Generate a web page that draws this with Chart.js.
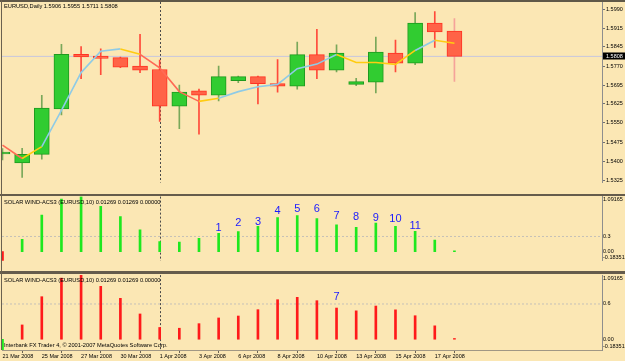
<!DOCTYPE html>
<html><head><meta charset="utf-8">
<script src="https://cdn.jsdelivr.net/npm/chart.js@4.4.1/dist/chart.umd.min.js"></script>
<style>
html,body{margin:0;padding:0;}
body{width:625px;height:361px;background:#fbe7b4;position:relative;overflow:hidden;font-family:"Liberation Sans",Arial,sans-serif;}
canvas{position:absolute;left:0;}
.sep{position:absolute;left:0;width:625px;z-index:5;}
.lbl{position:absolute;left:4px;font-size:5.7px;line-height:8px;color:#000;white-space:nowrap;z-index:6;}
</style></head><body>
<canvas id="c1" width="625" height="215" style="top:-10px"></canvas>
<canvas id="c2" width="625" height="100" style="top:180px"></canvas>
<canvas id="c3" width="625" height="101" style="top:260px"></canvas>
<div class="sep" style="top:0;height:2px;background:#5f5848"></div>
<div class="sep" style="top:193.5px;height:2.5px;background:#655c4c"></div>
<div class="sep" style="top:271px;height:2.5px;background:#655c4c"></div>
<div style="position:absolute;left:1px;top:0;width:1px;height:350px;background:#6a6150;z-index:5"></div>
<div class="lbl" id="t1" style="top:2px"></div>
<div class="lbl" id="t2" style="top:197.5px"></div>
<div class="lbl" id="t3" style="top:276px"></div>
<div class="lbl" id="t4" style="top:341px">Interbank FX Trader 4, © 2001-2007 MetaQuotes Software Corp.</div>
<script>
// ---------- data ----------
const dates = ['21 Mar 2008','24 Mar 2008','25 Mar 2008','26 Mar 2008','27 Mar 2008','28 Mar 2008','30 Mar 2008','31 Mar 2008','1 Apr 2008','2 Apr 2008','3 Apr 2008','4 Apr 2008','6 Apr 2008','7 Apr 2008','8 Apr 2008','9 Apr 2008','10 Apr 2008','11 Apr 2008','13 Apr 2008','14 Apr 2008','15 Apr 2008','16 Apr 2008','17 Apr 2008','18 Apr 2008'];
const openP  = [1.5429,1.5394,1.5427,1.5604,1.5816,1.5809,1.5803,1.5770,1.5757,1.5614,1.5674,1.5657,1.5714,1.5729,1.5702,1.5692,1.5815,1.5754,1.5699,1.5708,1.5821,1.5782,1.5937,1.5906];
const highP  = [1.5450,1.5451,1.5657,1.5855,1.5846,1.5837,1.5805,1.5894,1.5794,1.5696,1.5681,1.5770,1.5731,1.5731,1.5796,1.5864,1.5913,1.5853,1.5723,1.5883,1.5871,1.5978,1.5982,1.5955];
const lowP   = [1.5405,1.5337,1.5408,1.5580,1.5721,1.5737,1.5764,1.5745,1.5555,1.5527,1.5506,1.5635,1.5706,1.5623,1.5669,1.5681,1.5721,1.5748,1.5694,1.5666,1.5748,1.5776,1.5843,1.5711];
const closeP = [1.5436,1.5427,1.5607,1.5816,1.5806,1.5800,1.5766,1.5754,1.5614,1.5669,1.5657,1.5729,1.5729,1.5702,1.5692,1.5815,1.5754,1.5821,1.5710,1.5825,1.5782,1.5937,1.5903,1.5808];
const maValues = [1.5463,1.5411,1.5457,1.5598,1.5745,1.5828,1.5837,1.5816,1.5763,1.5671,1.5633,1.5645,1.5671,1.5690,1.5699,1.5760,1.5778,1.5815,1.5784,1.5784,1.5777,1.5831,1.5871,1.5859];
const maSegmentTrend = ['down','flat','up','up','up','up','flat','down','down','down','flat','up','up','up','up','up','up','flat','flat','flat','flat','up','flat'];
const acsValues = [-0.18351,0.243,0.724,1.04,1.09165,0.90,0.696,0.43,0.20,0.187,0.265,0.362,0.395,0.503,0.673,0.713,0.656,0.531,0.483,0.565,0.50,0.40,0.228,0.01269];
const acsSignal = [0.01269,0.00000]; // header buffers of last bar
const priceTicks = [1.5325,1.5400,1.5475,1.5550,1.5625,1.5695,1.5770,1.5845,1.5915,1.5990];
const acsTicksA = [-0.18351,0,0.3,1.09165];
const acsTickLabelsA = ['-0.18351','0.00','0.3','1.09165'];
const acsTicksB = [-0.18351,0,0.6,1.09165];
const acsTickLabelsB = ['-0.18351','0.00','0.6','1.09165'];
const waveLabelsA = ['1','2','3','4','5','6','7','8','9','10','11'];
const waveBarsA   = [11,12,13,14,15,16,17,18,19,20,21];
const waveHeightsA = [0.47,0.57,0.59,0.81,0.85,0.85,0.71,0.68,0.67,0.64,0.50];
const waveLabelsB = ['7'];
const waveBarsB   = [17];
const waveHeightsB = [0.72];
const dateTickBars = [0,2,4,6,8,10,12,14,16,18,20,22];
const separatorBar = 8;
const levelA = 0.3, levelB = 0.6;

// ---------- style ----------
const xMin = -0.025, xMax = 30.51;
const priceMin = 1.53177, priceMax = 1.60194;
const acsMin = -0.18351, acsMax = 1.09165;
const C = {
  upFill:'#31cc31', upBorder:'#1f9a1f', upWick:'#79a85a',
  dnFill:'#ff6347', dnBorder:'#ff3322', dnWick:'#ff4a3a', lastWick:'#f5a39a',
  maDown:'#ff6a55', maUp:'#8fcbe6', maFlat:'#ffcc11',
  histUp:'#1ee81e', histDn:'#ff1a1a', label:'#1a1aff'
};
const lastIdx = closeP.length - 1;
const lastPrice = closeP[lastIdx];
const fmt4 = v => v.toFixed(4);
document.getElementById('t1').textContent = 'EURUSD,Daily  ' + [openP[lastIdx],highP[lastIdx],lowP[lastIdx],closeP[lastIdx]].map(fmt4).join(' ');
const acsHeader = 'SOLAR WIND-ACS3 (EURUSD,10) ' + [acsValues[lastIdx]].concat(acsSignal).map(v=>v.toFixed(5)).join(' ');
document.getElementById('t2').textContent = acsHeader;
document.getElementById('t3').textContent = acsHeader;

const tickFont = {family:'"Liberation Sans", Arial, sans-serif', size:5.5, lineHeight:1.2};
function xScale(display){
  return {type:'linear', min:xMin, max:xMax, display:display, offset:false,
    afterBuildTicks: a => { a.ticks = dateTickBars.map(v => ({value:v})); },
    afterFit: s => { s.height = 11; },
    ticks:{align:'start', autoSkip:false, maxRotation:0, minRotation:0, padding:0, font:tickFont, color:'#000',
      callback: v => dates[v]},
    grid:{drawOnChartArea:false, drawTicks:true, tickLength:3, color:'#6a6150'},
    border:{display:true, color:'#a09784', width:1}};
}
function yScale(min, max, tickVals, labelFn, tickLen){
  return {type:'linear', position:'right', min:min, max:max,
    afterBuildTicks: a => { a.ticks = tickVals.map(v => ({value:v})); },
    afterFit: s => { s.width = 23; },
    ticks:{autoSkip:false, padding:1, font:tickFont, color:'#000', callback: labelFn},
    grid:{display:tickLen > 0, drawOnChartArea:false, drawTicks:tickLen > 0, tickLength:tickLen, color:'#707070'},
    border:{display:true, color:'#8e8e8e', width:1}};
}
const sepPlugin = {id:'sepLine', beforeDatasetsDraw(chart){
  const ctx = chart.ctx, a = chart.chartArea;
  const x = Math.round(chart.scales.x.getPixelForValue(separatorBar)) + 0.5;
  ctx.save(); ctx.strokeStyle = '#4a4a4a'; ctx.lineWidth = 1; ctx.setLineDash([2,2]);
  ctx.beginPath(); ctx.moveTo(x, a.top); ctx.lineTo(x, a.bottom); ctx.stroke(); ctx.restore();
}};
function labelPlugin(labels, bars, heights){
  return {id:'waveLabels', afterDatasetsDraw(chart){
    const ctx = chart.ctx;
    ctx.save(); ctx.fillStyle = C.label; ctx.font = '11px "Liberation Sans", Arial, sans-serif';
    ctx.textAlign = 'center'; ctx.textBaseline = 'middle';
    labels.forEach((t,i) => ctx.fillText(t, chart.scales.x.getPixelForValue(bars[i]), chart.scales.y.getPixelForValue(heights[i])));
    ctx.restore();
  }};
}
const priceBoxPlugin = {id:'priceBox', afterDraw(chart){
  const ctx = chart.ctx, a = chart.chartArea;
  const y = chart.scales.y.getPixelForValue(lastPrice);
  ctx.save(); ctx.fillStyle = '#000'; ctx.fillRect(a.right + 1, Math.round(y) - 3.5, 625 - a.right - 1, 7);
  ctx.fillStyle = '#fff'; ctx.font = '5.5px "Liberation Sans", Arial, sans-serif'; ctx.textBaseline = 'middle';
  ctx.fillText(fmt4(lastPrice), a.right + 4, Math.round(y)); ctx.restore();
}};
const common = {responsive:false, animation:false, devicePixelRatio:1,
  plugins:{legend:{display:false}, tooltip:{enabled:false}}, events:[]};
const idx = dates.map((d,i) => i);
const isUp = i => closeP[i] >= openP[i];

// ---------- main price chart ----------
new Chart(document.getElementById('c1'), {
  type:'bar',
  data:{datasets:[
    {type:'line', order:0, data: idx.map(i => ({x:i, y:maValues[i]})), borderWidth:1.6, pointRadius:0, tension:0,
      segment:{borderColor: ctx => ({down:C.maDown, up:C.maUp, flat:C.maFlat})[maSegmentTrend[ctx.p0DataIndex]]}},
    {type:'bar', order:1, grouped:false, barThickness:15, borderSkipped:false, borderWidth:1,
      data: idx.map(i => ({x:i, y:[openP[i], closeP[i]]})),
      backgroundColor: ctx => isUp(ctx.dataIndex) ? C.upFill : C.dnFill,
      borderColor: ctx => isUp(ctx.dataIndex) ? C.upBorder : C.dnBorder},
    {type:'bar', order:2, grouped:false, barThickness:1, borderWidth:0,
      data: idx.map(i => ({x:i, y:[lowP[i], highP[i]]})),
      backgroundColor: ctx => ctx.dataIndex === lastIdx ? C.lastWick : (isUp(ctx.dataIndex) ? C.upWick : C.dnWick)},
    {type:'line', order:3, data:[{x:xMin, y:lastPrice},{x:xMax, y:lastPrice}], borderColor:'#c6c6de', borderWidth:1, pointRadius:0}
  ]},
  options:Object.assign({}, common, {
    layout:{padding:{top:12, bottom:11.5, left:2, right:0}},
    scales:{x:xScale(false), y:yScale(priceMin, priceMax, priceTicks, v => fmt4(v), 3)}
  }),
  plugins:[sepPlugin, priceBoxPlugin]
});

// ---------- indicator panels ----------
function acsChart(id, posColor, negColor, ticks, tickLabels, level, padTop, padBottom, showX, labels, bars, heights){
  const lab = (v, i) => i === 0 ? [tickLabels[0], ''] : (i === ticks.length - 1 ? ['', tickLabels[i]] : tickLabels[i]);
  return new Chart(document.getElementById(id), {
    type:'bar',
    data:{datasets:[
      {type:'bar', order:0, grouped:false, barThickness:2, borderWidth:0,
        data: idx.map(i => ({x:i, y:acsValues[i]})),
        backgroundColor: ctx => acsValues[ctx.dataIndex] >= 0 ? posColor : negColor},
      {type:'line', order:1, data:[{x:xMin, y:level},{x:xMax, y:level}], borderColor:'#c4c0b8', borderWidth:1, borderDash:[2,2], pointRadius:0}
    ]},
    options:Object.assign({}, common, {
      layout:{padding:{top:padTop, bottom:padBottom, left:2, right:0}},
      scales:{x:xScale(showX), y:yScale(acsMin, acsMax, ticks, lab, 0)}
    }),
    plugins:[sepPlugin, labelPlugin(labels, bars, heights)]
  });
}
acsChart('c2', C.histUp, C.histDn, acsTicksA, acsTickLabelsA, levelA, 16.6, 8.2, false, waveLabelsA, waveBarsA, waveHeightsA);
acsChart('c3', C.histDn, C.histUp, acsTicksB, acsTickLabelsB, levelB, 15.1, 0, true, waveLabelsB, waveBarsB, waveHeightsB);
</script>
</body></html>
